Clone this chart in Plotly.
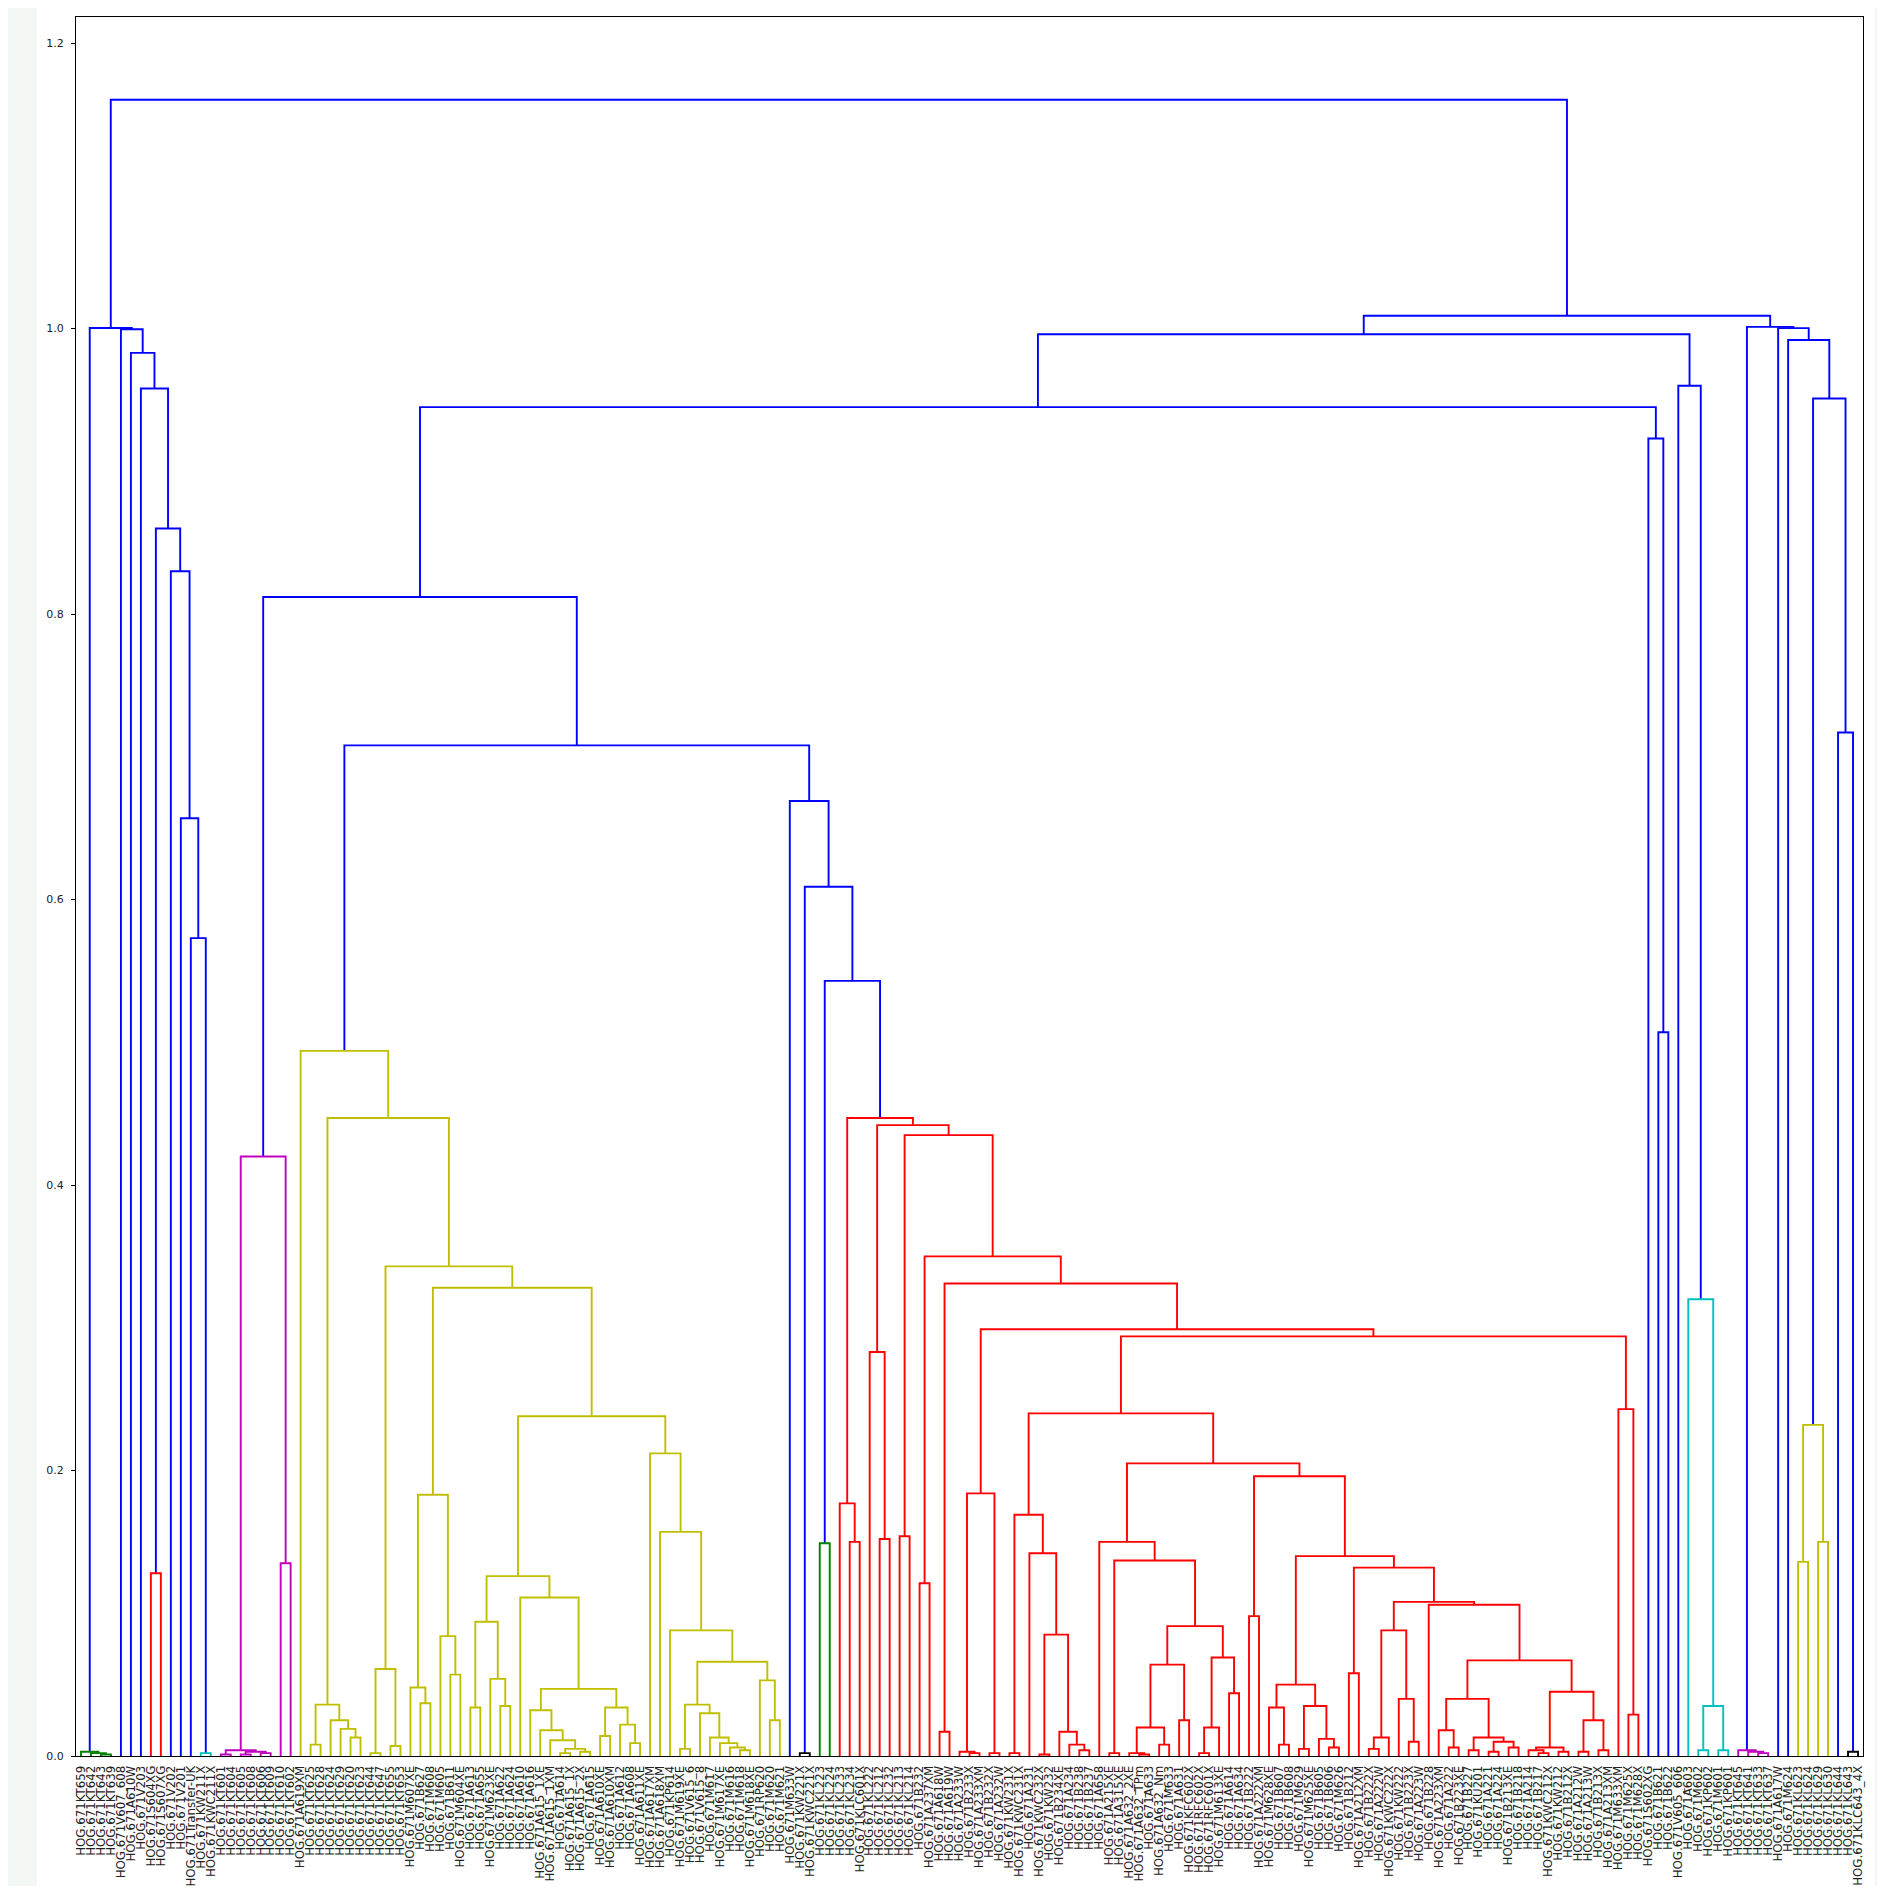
import plotly.graph_objects as go

# ---------------- data ----------------
leaf_labels = [
    "HOG.671KT659", "HOG.671KT642", "HOG.671KT643", "HOG.671KT639", "HOG.671V607_608",
    "HOG.671A610W", "HOG.671V203", "HOG.671S604XG", "HOG.671S607XG", "HOG.671V202",
    "HOG.671V201", "HOG.671Transfer-UK", "HOG.671KW211X", "HOG.671KWC211X", "HOG.671KT601",
    "HOG.671KT604", "HOG.671KT605", "HOG.671KT608", "HOG.671KT606", "HOG.671KT609",
    "HOG.671KT610", "HOG.671KT602", "HOG.671A619XM", "HOG.671KT625", "HOG.671KT628",
    "HOG.671KT624", "HOG.671KT629", "HOG.671KT620", "HOG.671KT623", "HOG.671KT644",
    "HOG.671KT647", "HOG.671KT655", "HOG.671KT653", "HOG.671M607XE", "HOG.671B627",
    "HOG.671M608", "HOG.671M605", "HOG.671B611", "HOG.671M604XE", "HOG.671A613",
    "HOG.671A655", "HOG.671M623XE", "HOG.671A622", "HOG.671A624", "HOG.671A610",
    "HOG.671A616", "HOG.671A615_1XE", "HOG.671A615_1XM", "HOG.671A614", "HOG.671A615_1X",
    "HOG.671A615_2X", "HOG.671A615", "HOG.671A610XE", "HOG.671A610XM", "HOG.671A612",
    "HOG.671A608", "HOG.671A611XE", "HOG.671A617XM", "HOG.671A618XM", "HOG.671KP614",
    "HOG.671M619XE", "HOG.671V615_6", "HOG.671V615_8", "HOG.671M617", "HOG.671M617XE",
    "HOG.671M616", "HOG.671M618", "HOG.671M618XE", "HOG.671RP620", "HOG.671M620",
    "HOG.671M621", "HOG.671M633W", "HOG.671KW221X", "HOG.671KWC221X", "HOG.671KL223",
    "HOG.671KL224", "HOG.671KL233", "HOG.671KL234", "HOG.671KLC601X", "HOG.671KL222",
    "HOG.671KL212", "HOG.671KL232", "HOG.671KL213", "HOG.671KL214", "HOG.671B232",
    "HOG.671A237XM", "HOG.671A618W", "HOG.671A619W", "HOG.671A233W", "HOG.671B233X",
    "HOG.671A233XM", "HOG.671B232X", "HOG.671A232W", "HOG.671KW231X", "HOG.671KWC231X",
    "HOG.671A231", "HOG.671KWC232X", "HOG.671KW232", "HOG.671B234XE", "HOG.671A234",
    "HOG.671B238", "HOG.671B237", "HOG.671A658", "HOG.671A215XE", "HOG.671A315XE",
    "HOG.671A632_2XE", "HOG.671A632_TPm", "HOG.671A633", "HOG.671A632_Nm", "HOG.671M633",
    "HOG.671A631", "HOG.671KFC602X", "HOG.671RFC602X", "HOG.671RFC601X", "HOG.671M613XE",
    "HOG.671A614", "HOG.671A634", "HOG.671B222", "HOG.671A222XM", "HOG.671M628XE",
    "HOG.671B607", "HOG.671B608", "HOG.671M629", "HOG.671M625XE", "HOG.671B605",
    "HOG.671B606", "HOG.671M626", "HOG.671B212", "HOG.671A212XM", "HOG.671B222X",
    "HOG.671A222W", "HOG.671KWC222X", "HOG.671KW222", "HOG.671B223X", "HOG.671A223W",
    "HOG.671B228", "HOG.671A223XM", "HOG.671A222", "HOG.671B223XE", "HOG.671B227",
    "HOG.671KU201", "HOG.671A221", "HOG.671A224", "HOG.671B213XE", "HOG.671B218",
    "HOG.671A214", "HOG.671B217", "HOG.671KWC212X", "HOG.671KW212", "HOG.671B212X",
    "HOG.671A212W", "HOG.671A213W", "HOG.671B213X", "HOG.671A213XM", "HOG.671M633XM",
    "HOG.671M625X", "HOG.671M628X", "HOG.671S602XG", "HOG.671B621", "HOG.671B622",
    "HOG.671V605_606", "HOG.671A603", "HOG.671M602", "HOG.671KP602", "HOG.671M601",
    "HOG.671KP601", "HOG.671KT645", "HOG.671KT641", "HOG.671KT633", "HOG.671KT637",
    "HOG.671A617W", "HOG.671M624", "HOG.671KL623", "HOG.671KL624", "HOG.671KL629",
    "HOG.671KL630", "HOG.671KL644", "HOG.671KL643", "HOG.671KLC643_4X",
]

y_ticks = [0.0, 0.2, 0.4, 0.6, 0.8, 1.0, 1.2]
y_tick_text = ["0.0", "0.2", "0.4", "0.6", "0.8", "1.0", "1.2"]


def J(a, b, h):
    """merge of two sub-clusters (leaf indices or merges) at distance h"""
    return (a, b, h)


# left block
green_a = J(0, J(1, J(2, 3, 0.001), 0.002), 0.003)
red_a = J(7, 8, 0.128)
cyan_a = J(12, 13, 0.002)
left_tree = J(green_a, J(4, J(5, J(6, J(red_a, J(9, J(10, J(11, cyan_a, 0.573), 0.657),
                                                    0.830), 0.860), 0.958), 0.983), 0.9995), 1.0004)

# magenta block
mag_a = J(J(J(14, 15, 0.001), J(J(16, 17, 0.001), J(18, 19, 0.002), 0.003), 0.004),
          J(20, 21, 0.135), 0.420)

# yellow block
ya_left = J(J(23, 24, 0.008), J(25, J(26, J(27, 28, 0.013), 0.019), 0.025), 0.036)
y_two = J(J(29, 30, 0.002), J(31, 32, 0.007), 0.061)
y_m = J(J(33, J(34, 35, 0.037), 0.048), J(36, J(37, 38, 0.057), 0.084), 0.183)
y_a1 = J(J(39, 40, 0.034), J(41, J(42, 43, 0.035), 0.054), 0.094)
y_chain = J(45, J(46, J(47, J(J(48, 49, 0.002), J(50, 51, 0.003), 0.005), 0.011), 0.018), 0.032)
y_a2 = J(J(52, 53, 0.014), J(54, J(55, 56, 0.009), 0.022), 0.034)
y_a = J(y_a1, J(44, J(y_chain, y_a2, 0.047), 0.111), 0.126)
y_v = J(J(60, 61, 0.005), J(62, J(63, J(64, J(65, J(66, 67, 0.004), 0.006), 0.009), 0.013), 0.030), 0.036)
y_m2 = J(58, J(59, J(y_v, J(68, J(69, 70, 0.025), 0.053), 0.066), 0.088), 0.157)
y_c = J(y_a, J(57, y_m2, 0.212), 0.238)
yellow = J(22, J(ya_left, J(y_two, J(y_m, y_c, 0.328), 0.343), 0.447), 0.494)

# red block
red_ra = J(76, J(77, 78, 0.150), 0.177)
red_rc = J(79, J(80, 81, 0.152), 0.283)
red_rh = J(J(88, J(89, 90, 0.002), 0.003), J(91, 92, 0.002), 0.184)
red_s1 = J(J(93, 94, 0.002), J(95, J(J(96, 97, 0.001),
                                      J(98, J(99, J(100, 101, 0.004), 0.008), 0.017), 0.085), 0.142), 0.169)
red_t1d = J(J(J(105, J(106, 107, 0.001), 0.002), J(108, 109, 0.008), 0.020), J(110, 111, 0.025), 0.064)
red_t1e = J(J(J(112, 113, 0.002), 114, 0.020), J(115, 116, 0.044), 0.069)
red_t1 = J(102, J(J(103, 104, 0.002), J(red_t1d, red_t1e, 0.091), 0.137), 0.150)
red_x1 = J(J(119, J(120, 121, 0.008), 0.034),
           J(J(122, 123, 0.005), J(124, J(125, 126, 0.006), 0.012), 0.035), 0.050)
red_x4 = J(J(J(129, 130, 0.005), 131, 0.013), J(132, J(133, 134, 0.010), 0.040), 0.088)
red_x7 = J(J(136, J(137, 138, 0.006), 0.018),
           J(J(139, 140, 0.004), J(J(141, 142, 0.003), J(143, 144, 0.006), 0.010), 0.013), 0.040)
red_x8 = J(J(J(145, J(146, 147, 0.002), 0.004), J(148, 149, 0.003), 0.006),
           J(J(150, 151, 0.003), J(152, 153, 0.004), 0.025), 0.045)
red_x = J(red_x1, J(J(127, 128, 0.058), J(red_x4, J(135, J(red_x7, red_x8, 0.067), 0.106), 0.108), 0.132), 0.140)
red_s2 = J(red_t1, J(J(117, 118, 0.098), red_x, 0.196), 0.205)
red_ri = J(J(red_s1, red_s2, 0.240), J(154, J(155, 156, 0.029), 0.243), 0.294)
red = J(red_ra, J(red_rc, J(J(82, 83, 0.154), J(J(84, 85, 0.121),
                                                 J(J(86, 87, 0.017), J(red_rh, red_ri, 0.299), 0.331),
                                                 0.350), 0.435), 0.442), 0.447)

# middle blue block
mid_c = J(71, J(J(72, 73, 0.002), J(J(74, 75, 0.149), red, 0.543), 0.609), 0.669)
block_b = J(mag_a, J(yellow, mid_c, 0.708), 0.812)
block_a = J(block_b, J(157, J(158, 159, 0.507), 0.923), 0.945)
cyan_b = J(161, J(J(162, 163, 0.004), J(164, 165, 0.004), 0.035), 0.320)
r1_left = J(block_a, J(160, cyan_b, 0.960), 0.996)

# right block
mag_b = J(166, J(167, J(168, 169, 0.002), 0.003), 0.004)
yel_b = J(J(172, 173, 0.136), J(174, 175, 0.150), 0.232)
r1_right = J(mag_b, J(170, J(171, J(yel_b, J(176, J(177, 178, 0.003), 0.717), 0.951), 0.992), 1.0003), 1.0012)

root = J(left_tree, J(r1_left, r1_right, 1.009), 1.1603)

# ---------------- drawing ----------------
THRESH = 0.5
PALETTE = ["#008000", "#ff0000", "#00bfbf", "#bf00bf", "#bfbf00", "#000000"]
ABOVE = "#0000ff"
N = len(leaf_labels)

segs = {}
counter = [0]


def walk(node, color=None):
    if isinstance(node, int):
        return 5 + 10 * node, 0.0
    a, b, h = node
    if color is None and h < THRESH:
        color = PALETTE[counter[0] % len(PALETTE)]
        counter[0] += 1
    xa, ha = walk(a, color)
    xb, hb = walk(b, color)
    c = color if color is not None else ABOVE
    xs, ys = segs.setdefault(c, ([], []))
    xs += [xa, xa, xb, xb, None]
    ys += [ha, h, h, hb, None]
    return (xa + xb) / 2.0, h


walk(root)

fig = go.Figure()
order = [ABOVE] + PALETTE
for c in order:
    if c in segs:
        xs, ys = segs[c]
        fig.add_trace(go.Scatter(x=xs, y=ys, mode="lines",
                                 line=dict(color=c, width=1.9),
                                 hoverinfo="skip", showlegend=False))

# page is 1885x1894; the html body adds an 8px margin around the figure
BODY = 8
W, H = 1885 - 2 * BODY, 1894 - 2 * BODY
PL, PR, PT, PB = 76, 1863, 17, 1756          # plot-area edges in page pixels
ML, MR, MT, MB = PL - BODY, (BODY + W) - PR, PT - BODY, (BODY + H) - PB
pw, ph = PR - PL, PB - PT

fig.add_shape(type="rect", xref="paper", yref="paper",
              x0=(37 - PL) / pw, x1=(1875 - PL) / pw,
              y0=(PB - 1894) / ph, y1=(PB - 3) / ph,
              fillcolor="white", line=dict(width=0), layer="below")

fig.update_layout(
    width=W, height=H,
    margin=dict(l=ML, r=MR, t=MT, b=MB, pad=0, autoexpand=False),
    paper_bgcolor="#f3f7f4", plot_bgcolor="white",
    showlegend=False,
    font=dict(family="DejaVu Sans", color="#222"),
)
fig.update_xaxes(range=[0, 10 * N], tickmode="array", automargin=False,
                 tickvals=[5 + 10 * i for i in range(N)], ticktext=leaf_labels,
                 tickangle=-90, tickfont=dict(size=11.8, family="DejaVu Sans", color="#222"),
                 showgrid=False, zeroline=False, showline=True, mirror=True,
                 linecolor="#000", linewidth=1, ticks="outside", ticklen=4,
                 tickcolor="rgba(0,0,0,0)")
fig.update_yaxes(range=[0, 1.2183], tickmode="array", tickvals=y_ticks, ticktext=y_tick_text,
                 automargin=False, ticklabelstandoff=5,
                 tickfont=dict(size=11, family="DejaVu Sans", color="#222"),
                 showgrid=False, zeroline=False, showline=True, mirror=True,
                 linecolor="#000", linewidth=1, ticks="outside", ticklen=4, tickcolor="#000")

fig.write_html("out.html")
